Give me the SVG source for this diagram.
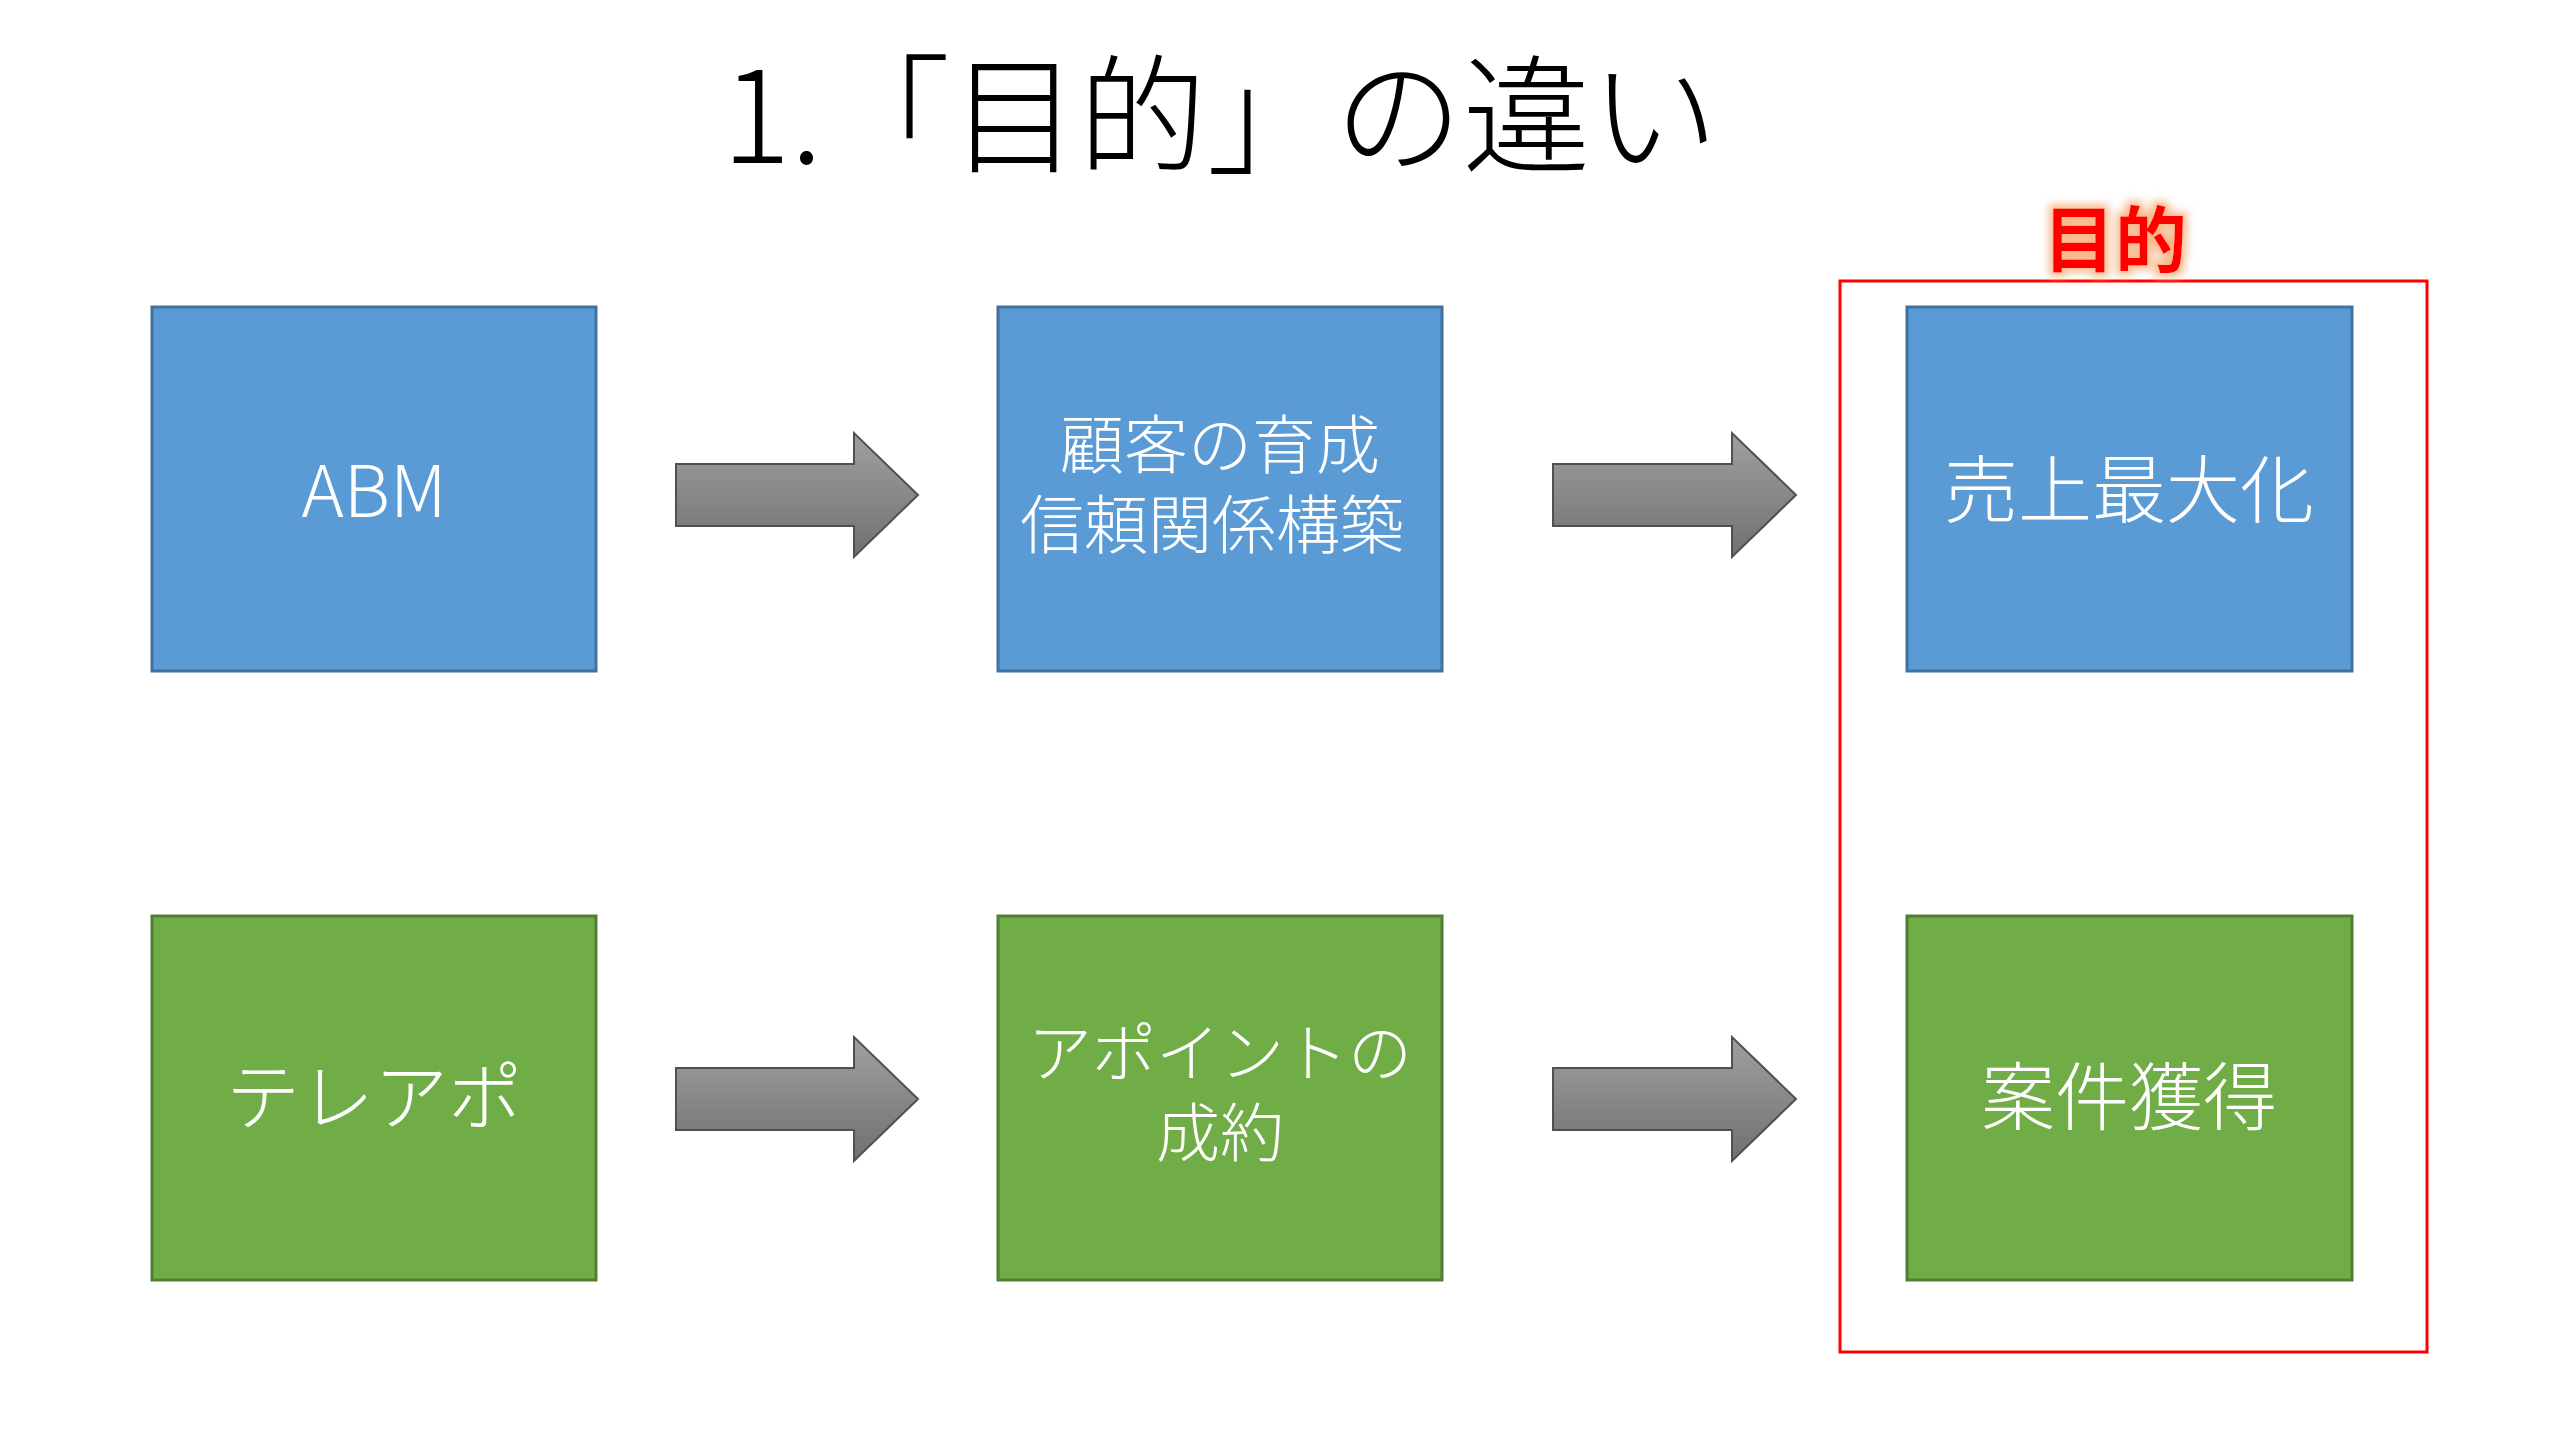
<svg xmlns="http://www.w3.org/2000/svg" width="2560" height="1442" viewBox="0 0 2560 1442">
<style>
.b{fill:#5B9BD5;stroke:#41719C;stroke-width:3}
.g{fill:#70AD47;stroke:#507E32;stroke-width:3}
.t{font-family:"Noto Sans CJK JP","Noto Sans",sans-serif;font-weight:300;fill:#fff;font-size:64px;text-anchor:middle}
.a{fill:url(#ag);stroke:#505050;stroke-width:2}
</style>
<defs>
<linearGradient id="ag" x1="0" y1="0" x2="0" y2="1"><stop offset="0" stop-color="#a0a0a0"/><stop offset="1" stop-color="#707070"/></linearGradient>
<filter id="glow" x="-30%" y="-30%" width="160%" height="160%"><feMorphology in="SourceAlpha" operator="dilate" radius="4" result="d"/><feGaussianBlur in="d" stdDeviation="4" result="bl"/><feFlood flood-color="#F8B88A"/><feComposite in2="bl" operator="in" result="gl"/><feMerge><feMergeNode in="gl"/><feMergeNode in="SourceGraphic"/></feMerge></filter>
</defs>
<rect width="2560" height="1442" fill="#fff"/>
<text x="722" y="163" font-family="'Noto Sans CJK JP','Noto Sans',sans-serif" font-weight="300" font-size="128" fill="#000">1.「目的」の違い</text>
<g id="goal">
<rect x="1840" y="281" width="587" height="1071" fill="none" stroke="#FF0000" stroke-width="3"/>
<text x="2115" y="266" font-family="'Noto Sans CJK JP',sans-serif" font-weight="700" font-size="72" fill="#FF0000" text-anchor="middle" filter="url(#glow)">目的</text>
</g>
<g id="abm"><rect class="b" x="152" y="307" width="444" height="364"/><text class="t" x="374" y="517" style="font-size:72px">ABM</text></g>
<g id="nurture"><rect class="b" x="998" y="307" width="444" height="364"/><text class="t" x="1220" y="468">顧客の育成</text><text class="t" x="1212" y="548">信頼関係構築</text></g>
<g id="sales"><rect class="b" x="1907" y="307" width="445" height="364"/><text class="t" x="2129" y="517" style="font-size:74px">売上最大化</text></g>
<g id="tele"><rect class="g" x="152" y="916" width="444" height="364"/><text class="t" x="374" y="1124" style="font-size:74px">テレアポ</text></g>
<g id="appt"><rect class="g" x="998" y="916" width="444" height="364"/><text class="t" x="1220" y="1076">アポイントの</text><text class="t" x="1220" y="1156">成約</text></g>
<g id="deal"><rect class="g" x="1907" y="916" width="445" height="364"/><text class="t" x="2129" y="1124" style="font-size:74px">案件獲得</text></g>
<g id="connectors">
<polygon class="a" points="676,464 854,464 854,433 918,495 854,557 854,526 676,526"/>
<polygon class="a" points="1553,464 1732,464 1732,433 1796,495 1732,557 1732,526 1553,526"/>
<polygon class="a" points="676,1068 854,1068 854,1037 918,1099 854,1161 854,1130 676,1130"/>
<polygon class="a" points="1553,1068 1732,1068 1732,1037 1796,1099 1732,1161 1732,1130 1553,1130"/>
</g>
</svg>
